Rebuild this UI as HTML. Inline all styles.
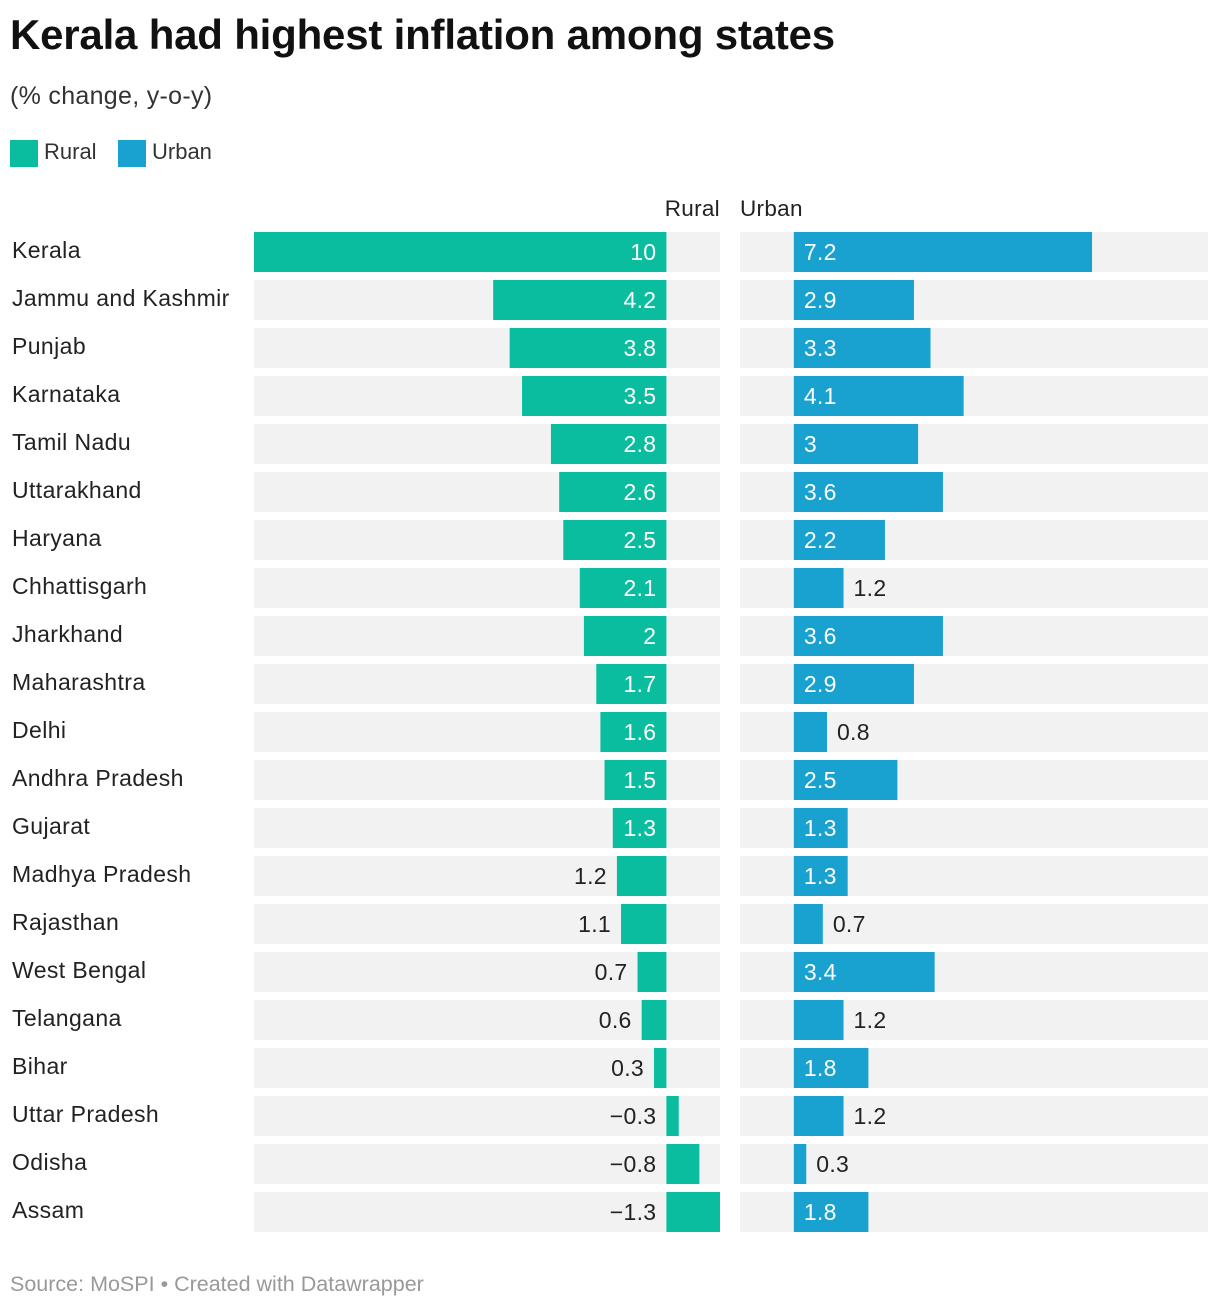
<!DOCTYPE html>
<html><head><meta charset="utf-8"><style>
body{margin:0;background:#fff;font-family:"Liberation Sans",sans-serif;color:#222;}
#wrap{position:relative;width:1220px;height:1308px;}
.t{position:absolute;white-space:nowrap;}
</style></head><body><div id="wrap">
<div class="t" style="left:10px;top:11px;font-size:42px;font-weight:bold;color:#111;letter-spacing:-0.2px">Kerala had highest inflation among states</div>
<div class="t" style="left:10px;top:82px;font-size:25px;color:#333;letter-spacing:0.3px">(% change, y-o-y)</div>
<div class="t" style="left:10px;top:139px;font-size:22px;color:#333"><span style="display:inline-block;width:28px;height:27px;background:#0bbd9f;vertical-align:middle;margin-right:6px"></span>Rural</div>
<div class="t" style="left:118px;top:139px;font-size:22px;color:#333"><span style="display:inline-block;width:28px;height:27px;background:#19a1cf;vertical-align:middle;margin-right:6px"></span>Urban</div>
<svg id="svg" width="1220" height="1308" style="position:absolute;left:0;top:0"></svg>
<div class="t" style="left:10px;top:1272px;font-size:21.5px;color:#999">Source: MoSPI • Created with Datawrapper</div>
</div>
<script>
const states=["Kerala","Jammu and Kashmir","Punjab","Karnataka","Tamil Nadu","Uttarakhand","Haryana","Chhattisgarh","Jharkhand","Maharashtra","Delhi","Andhra Pradesh","Gujarat","Madhya Pradesh","Rajasthan","West Bengal","Telangana","Bihar","Uttar Pradesh","Odisha","Assam"];
const rural=[10,4.2,3.8,3.5,2.8,2.6,2.5,2.1,2,1.7,1.6,1.5,1.3,1.2,1.1,0.7,0.6,0.3,-0.3,-0.8,-1.3];
const urban=[7.2,2.9,3.3,4.1,3,3.6,2.2,1.2,3.6,2.9,0.8,2.5,1.3,1.3,0.7,3.4,1.2,1.8,1.2,0.3,1.8];
const domain=[-1.3,10];
const svg=document.getElementById('svg');const NS='http://www.w3.org/2000/svg';
function mk(tag,attrs,txt){const e=document.createElementNS(NS,tag);for(const k in attrs)e.setAttribute(k,attrs[k]);if(txt!=null)e.textContent=txt;svg.appendChild(e);return e;}
const rL=254,rR=720,uL=740,uR=1208;
const xr=v=>rR-(v-domain[0])/(domain[1]-domain[0])*(rR-rL);
const xu=v=>uL+(v-domain[0])/(domain[1]-domain[0])*(uR-uL);
const rowY=i=>232+48*i;
function fmt(v){return v<0?'\u2212'+Math.abs(v):String(v);}
const F='Liberation Sans';
let h=mk('text',{x:rR,y:216,'text-anchor':'end','font-size':22.5,fill:'#222','font-family':F,'letter-spacing':0.3},'Rural');

h=mk('text',{x:uL,y:216,'font-size':22.5,fill:'#222','font-family':F,'letter-spacing':0.3},'Urban');

states.forEach((s,i)=>{
 const y=rowY(i),cy=y+28;
 let e=mk('text',{x:12,y:cy-2,'font-size':23,fill:'#222','font-family':F,'letter-spacing':0.4},s);
 
 e=mk('rect',{x:rL,y:y,width:rR-rL,height:40,fill:'#f2f2f2'});
 
 e=mk('rect',{x:uL,y:y,width:uR-uL,height:40,fill:'#f2f2f2'});
 
 const z=xr(0),rv=rural[i],rx=xr(rv);
 e=mk('rect',{x:Math.min(z,rx),y:y,width:Math.abs(rx-z),height:40,fill:'#0bbd9f'});
 
 const rw=Math.abs(rx-z);let lt;
 const base={'font-size':23,'font-family':F,'letter-spacing':0.3};
 if(rv>=0&&rw>=52){lt=mk('text',Object.assign({x:z-10,y:cy,'text-anchor':'end',fill:'#fff'},base),fmt(rv));}
 else if(rv>=0){lt=mk('text',Object.assign({x:rx-10,y:cy,'text-anchor':'end',fill:'#222'},base),fmt(rv));}
 else{lt=mk('text',Object.assign({x:z-10,y:cy,'text-anchor':'end',fill:'#222'},base),fmt(rv));}
 
 const uz=xu(0),uv=urban[i],ux=xu(uv);
 e=mk('rect',{x:Math.min(uz,ux),y:y,width:Math.abs(ux-uz),height:40,fill:'#19a1cf'});
 
 const uw=Math.abs(ux-uz);
 if(uw>=52){lt=mk('text',Object.assign({x:uz+10,y:cy,fill:'#fff'},base),fmt(uv));}
 else{lt=mk('text',Object.assign({x:ux+10,y:cy,fill:'#222'},base),fmt(uv));}
 
});
</script></body></html>
